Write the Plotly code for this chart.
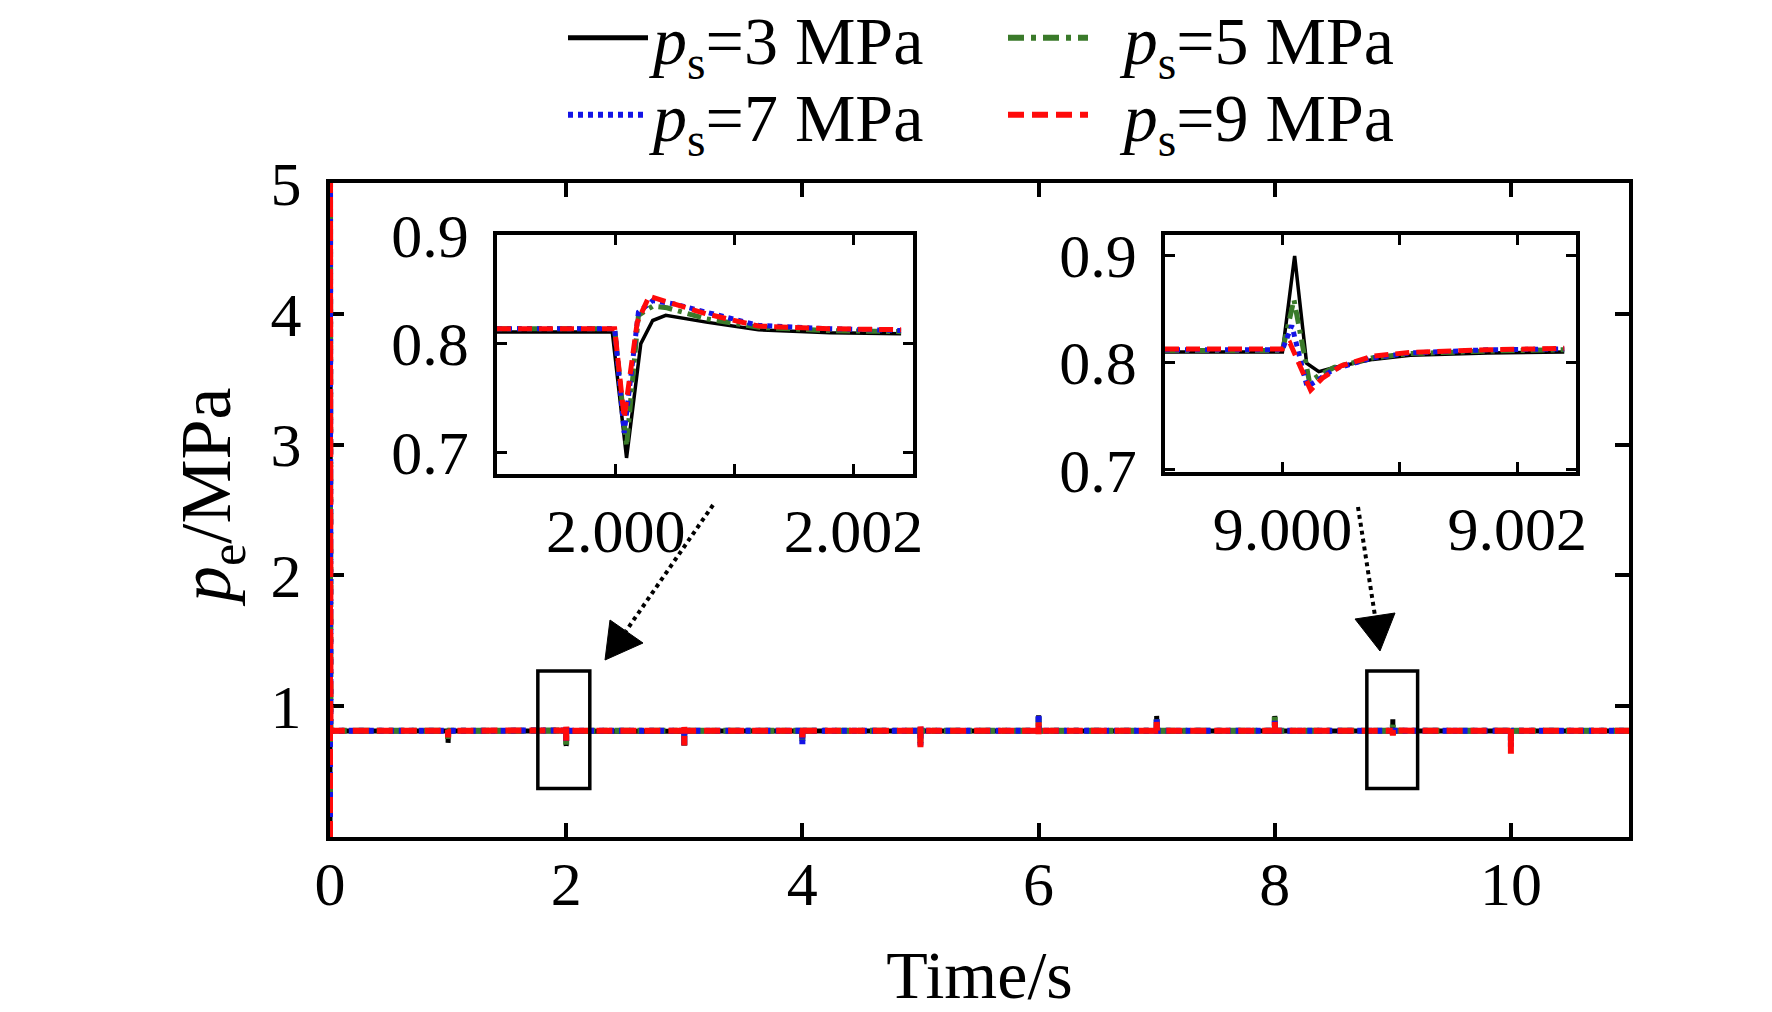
import plotly.graph_objects as go

# ---------------- data ----------------
series_names = ["3 MPa", "5 MPa", "7 MPa", "9 MPa"]
colors = ["#000000", "#3a7a2a", "#1414e6", "#ff0a0a"]

baseline = [0.810, 0.8125, 0.8128, 0.8130]
start_peak = [5.0, 5.0, 5.0, 5.0]

event_times = [1, 3, 4, 5, 6, 7, 8, 10]
# spike extremes at each event (min, max) per series, main plot
ev_min_3 = [0.72, 0.70, 0.73, 0.72, 0.80, 0.80, 0.80, 0.77]
ev_max_3 = [0.81, 0.81, 0.81, 0.81, 0.93, 0.926, 0.926, 0.81]
ev_min_5 = [0.74, 0.70, 0.72, 0.71, 0.79, 0.80, 0.80, 0.74]
ev_max_5 = [0.82, 0.82, 0.83, 0.83, 0.92, 0.92, 0.92, 0.82]
ev_min_7 = [0.75, 0.70, 0.71, 0.70, 0.78, 0.79, 0.79, 0.69]
ev_max_7 = [0.82, 0.83, 0.84, 0.84, 0.94, 0.90, 0.90, 0.82]
ev_min_9 = [0.76, 0.70, 0.76, 0.68, 0.77, 0.80, 0.80, 0.637]
ev_max_9 = [0.82, 0.84, 0.85, 0.845, 0.876, 0.88, 0.88, 0.82]

# zoomed transient near t = 2 s
ins1_t_3 = [1.999, 1.99997, 2.00009, 2.00021, 2.00031, 2.00042, 2.00076, 2.0012, 2.0018, 2.0024]
ins1_p_3 = [0.8107, 0.8107, 0.6948, 0.800, 0.8213, 0.826, 0.8198, 0.8128, 0.810, 0.8091]
ins1_t_5 = [1.999, 1.99999, 2.00009, 2.00019, 2.00031, 2.00043, 2.00076, 2.0012, 2.0018, 2.0024]
ins1_p_5 = [0.8137, 0.8137, 0.7055, 0.826, 0.8345, 0.833, 0.8229, 0.815, 0.812, 0.811]
ins1_t_7 = [1.999, 1.99999, 2.00007, 2.00019, 2.00031, 2.00049, 2.00076, 2.0012, 2.0018, 2.0024]
ins1_p_7 = [0.8137, 0.8137, 0.7177, 0.829, 0.8396, 0.8366, 0.829, 0.8168, 0.8137, 0.812]
ins1_t_9 = [1.999, 1.99999, 2.00007, 2.00018, 2.00028, 2.00049, 2.00076, 2.0012, 2.0018, 2.0024]
ins1_p_9 = [0.8137, 0.8137, 0.7314, 0.8198, 0.8436, 0.8366, 0.8274, 0.8162, 0.8137, 0.8128]

# zoomed transient near t = 9 s
ins2_t_3 = [8.999, 9.0000, 9.000104, 9.000206, 9.00031, 9.00044, 9.00077, 9.00109, 9.00175, 9.0024]
ins2_p_3 = [0.8099, 0.8099, 0.8994, 0.7994, 0.7916, 0.7955, 0.803, 0.8069, 0.809, 0.8099]
ins2_t_5 = [8.999, 9.0000, 9.000098, 9.00023, 9.00031, 9.00044, 9.00077, 9.00109, 9.00175, 9.0024]
ins2_p_5 = [0.8114, 0.8114, 0.8587, 0.7819, 0.788, 0.7955, 0.8045, 0.8084, 0.8108, 0.812]
ins2_t_7 = [8.999, 9.0000, 9.00008, 9.00021, 9.00031, 9.00044, 9.00077, 9.00109, 9.00175, 9.0024]
ins2_p_7 = [0.812, 0.812, 0.8346, 0.7774, 0.7843, 0.794, 0.8045, 0.809, 0.812, 0.8127]
ins2_t_9 = [8.999, 9.0000, 9.000065, 9.00024, 9.00034, 9.0005, 9.00077, 9.00109, 9.00175, 9.0024]
ins2_p_9 = [0.8127, 0.8127, 0.818, 0.7744, 0.7855, 0.797, 0.806, 0.8096, 0.812, 0.8133]

x_main_ticks = [0, 2, 4, 6, 8, 10]
y_main_ticks = [1, 2, 3, 4, 5]
ins1_xticks = [2.000, 2.002]
ins1_xminor = [2.001]
ins2_xticks = [9.000, 9.002]
ins2_xminor = [9.001]
ins_yticks = [0.7, 0.8, 0.9]

# ---------------- assemble ----------------
ev_min = [ev_min_3, ev_min_5, ev_min_7, ev_min_9]
ev_max = [ev_max_3, ev_max_5, ev_max_7, ev_max_9]
ins1_t = [ins1_t_3, ins1_t_5, ins1_t_7, ins1_t_9]
ins1_p = [ins1_p_3, ins1_p_5, ins1_p_7, ins1_p_9]
ins2_t = [ins2_t_3, ins2_t_5, ins2_t_7, ins2_t_9]
ins2_p = [ins2_p_3, ins2_p_5, ins2_p_7, ins2_p_9]

dashes_main = ["solid", "16px,7px,5px,7px", "5px,5px", "16px,8px"]
dashes_ins = ["solid", "14px,6px,4px,6px", "5px,5px", "14px,7px"]
widths_main = [5, 6, 6, 6]
widths_ins = [3.5, 5, 5, 5]
name_pad = ["", "\u00a0\u2009", "", "\u00a0\u2009"]

FONT = "Liberation Serif"
FS = 62
FS_BIG = 68

fig = go.Figure()

for i in range(4):
    b = baseline[i]
    ts = [0.0, 0.0002, 0.004]
    ps = [0.0, start_peak[i], b]
    all_events = []
    for k, te in enumerate(event_times):
        all_events.append((te, [te - 0.0002, te, te + 0.0003, te + 0.003],
                           [b, ev_min[i][k], ev_max[i][k], b]))
    all_events.append((2, list(ins1_t[i]), list(ins1_p[i])))
    all_events.append((9, list(ins2_t[i]), list(ins2_p[i])))
    all_events.sort(key=lambda e: e[0])
    for _, et, ep in all_events:
        ts += et
        ps += ep
    ts.append(11.0)
    ps.append(b)
    lg = "legend" if i in (0, 1) else "legend2"
    fig.add_trace(go.Scatter(
        x=ts, y=ps, mode="lines",
        name=name_pad[i] + "<i>p</i><sub>s</sub>=" + series_names[i],
        line=dict(color=colors[i], width=widths_main[i], dash=dashes_main[i]),
        xaxis="x", yaxis="y", legend=lg, showlegend=True))

for i in range(4):
    fig.add_trace(go.Scatter(
        x=ins1_t[i], y=ins1_p[i], mode="lines", showlegend=False,
        line=dict(color=colors[i], width=widths_ins[i], dash=dashes_ins[i]),
        xaxis="x2", yaxis="y2"))
for i in range(4):
    fig.add_trace(go.Scatter(
        x=ins2_t[i], y=ins2_p[i], mode="lines", showlegend=False,
        line=dict(color=colors[i], width=widths_ins[i], dash=dashes_ins[i]),
        xaxis="x3", yaxis="y3"))

# ---------------- geometry ----------------
W, H = 1772, 1012
L, R, T, B = 322, 151, 175, 183
PW, PH = W - L - R, H - T - B


def px(xp):
    return (xp - L) / PW


def py(yp):
    return (H - B - yp) / PH


tickfont = dict(family=FONT, size=FS, color="black")
common = dict(showline=True, linecolor="black", mirror="ticks", ticks="inside",
              tickcolor="black", showgrid=False, zeroline=False, tickfont=tickfont)

fig.update_layout(
    width=W, height=H,
    margin=dict(l=L, r=R, t=T, b=B, autoexpand=False),
    paper_bgcolor="white", plot_bgcolor="white",
    font=dict(family=FONT, size=FS, color="black"),
    xaxis=dict(domain=[0, 1], range=[0, 11], tickvals=x_main_ticks, ticklen=14,
               tickwidth=3.5, linewidth=4, anchor="y", ticklabelstandoff=-10,
               title=dict(text="Time/s", font=dict(family=FONT, size=FS_BIG), standoff=34),
               **common),
    yaxis=dict(domain=[0, 1], range=[0, 5], tickvals=y_main_ticks, ticklen=14,
               tickwidth=3.5, linewidth=4, anchor="x", ticklabelstandoff=12,
               layer="below traces", **common),
    xaxis2=dict(domain=[px(489), px(905)], range=[1.999, 2.0025], tickvals=ins1_xticks,
                ticktext=["2.000", "2.002"], ticklen=10, tickwidth=3, linewidth=3.5,
                anchor="y2", ticklabelstandoff=0,
                minor=dict(tickvals=ins1_xminor, ticks="inside", ticklen=10, tickwidth=3,
                           tickcolor="black", showgrid=False),
                **common),
    yaxis2=dict(domain=[py(466), py(227)], range=[0.68, 0.90], tickvals=ins_yticks,
                tickformat=".1f", ticklen=10, tickwidth=3, linewidth=3.5, anchor="x2",
                ticklabelstandoff=12, **common),
    xaxis3=dict(domain=[px(1157), px(1568)], range=[8.999, 9.0025], tickvals=ins2_xticks,
                ticktext=["9.000", "9.002"], ticklen=10, tickwidth=3, linewidth=3.5,
                anchor="y3", ticklabelstandoff=0,
                minor=dict(tickvals=ins2_xminor, ticks="inside", ticklen=10, tickwidth=3,
                           tickcolor="black", showgrid=False),
                **common),
    yaxis3=dict(domain=[py(464), py(227)], range=[0.698, 0.919], tickvals=ins_yticks,
                tickformat=".1f", ticklen=10, tickwidth=3, linewidth=3.5, anchor="x3",
                ticklabelstandoff=12, **common),
    legend=dict(orientation="h", xref="container", yref="container",
                x=555 / W, y=1 - 30 / H, xanchor="left", yanchor="middle",
                entrywidth=345, itemwidth=80, bgcolor="rgba(0,0,0,0)",
                font=dict(family=FONT, size=FS_BIG, color="black"), tracegroupgap=0),
    legend2=dict(orientation="h", xref="container", yref="container",
                 x=555 / W, y=1 - 107 / H, xanchor="left", yanchor="middle",
                 entrywidth=345, itemwidth=80, bgcolor="rgba(0,0,0,0)",
                 font=dict(family=FONT, size=FS_BIG, color="black"), tracegroupgap=0),
)

# y-axis title placed as rotated text
fig.add_annotation(text="<i>p</i><sub>e</sub>/MPa", xref="paper", yref="paper",
                   x=px(203), y=py(490), xanchor="center", yanchor="middle",
                   textangle=-90, showarrow=False,
                   font=dict(family=FONT, size=72, color="black"))

shapes = []
# zoom boxes in the main plot
shapes.append(dict(type="rect", xref="x", yref="y", x0=1.76, x1=2.20, y0=0.37, y1=1.27,
                   line=dict(color="black", width=3.5)))
shapes.append(dict(type="rect", xref="x", yref="y", x0=8.78, x1=9.21, y0=0.37, y1=1.27,
                   line=dict(color="black", width=3.5)))
# dotted arrows
arrows = [((705, 497), (618, 623), [(602, 612), (635, 635), (597, 652)]),
          ((1350, 499), (1367, 608), [(1347, 611), (1387, 605), (1372, 643)])]
for (sx, sy), (ex, ey), tri in arrows:
    shapes.append(dict(type="line", xref="paper", yref="paper",
                       x0=px(sx), y0=py(sy), x1=px(ex), y1=py(ey),
                       line=dict(color="black", width=4, dash="dot")))
    path = "M {},{} L {},{} L {},{} Z".format(px(tri[0][0]), py(tri[0][1]),
                                              px(tri[1][0]), py(tri[1][1]),
                                              px(tri[2][0]), py(tri[2][1]))
    shapes.append(dict(type="path", xref="paper", yref="paper", path=path,
                       fillcolor="black", line=dict(color="black", width=1)))
fig.update_layout(shapes=shapes)

fig.write_html("out.html")
